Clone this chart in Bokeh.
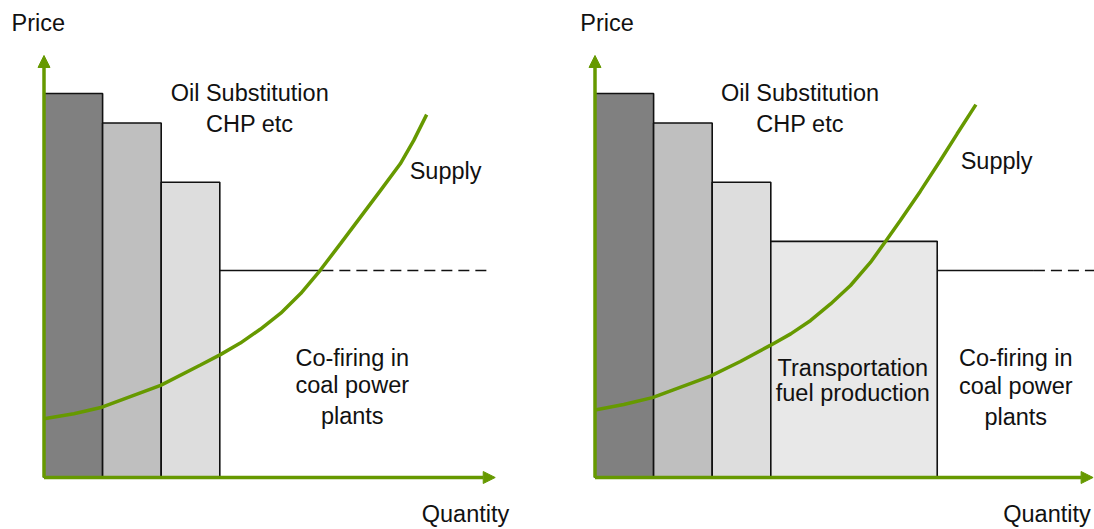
from bokeh.plotting import figure
from bokeh.layouts import row
from bokeh.models import Arrow, NormalHead, Range1d
from bokeh.core.properties import value
from bokeh.embed import file_html
from bokeh.resources import INLINE

# ---------------- data (conceptual units: quantity, price) ----------------
oil_left = [0.0, 1.0, 2.0]
oil_right = [1.0, 2.0, 3.0]
oil_price = [10.0, 9.23, 7.69]

transport_left = [3.0]
transport_right = [5.84]
transport_price = [6.15]

cofire_price = 5.39
left_cofire_solid_q = [3.0, 4.75]
left_cofire_dash_q = [4.75, 7.55]
right_cofire_solid_q = [5.84, 7.49]
right_cofire_dash_q = [7.49, 8.7]

left_supply_q = [0.0, 0.51, 0.99, 1.99, 2.67, 3.01, 3.35, 3.69, 4.04, 4.38, 4.71, 5.06, 5.40, 5.74, 6.08, 6.31, 6.53]
left_supply_p = [1.53, 1.66, 1.83, 2.40, 2.93, 3.20, 3.50, 3.86, 4.28, 4.79, 5.39, 6.09, 6.78, 7.47, 8.17, 8.78, 9.45]

right_supply_q = [0.0, 0.49, 0.98, 1.97, 2.48, 2.99, 3.34, 3.68, 4.02, 4.36, 4.70, 4.96, 5.21, 5.55, 5.89, 6.18, 6.50]
right_supply_p = [1.76, 1.90, 2.08, 2.64, 3.02, 3.44, 3.74, 4.09, 4.52, 5.00, 5.60, 6.15, 6.69, 7.45, 8.25, 8.95, 9.71]

oil_labels = ["Oil Substitution", "CHP etc"]
cofire_labels = ["Co-firing in", "coal power", "plants"]
transport_labels = ["Transportation", "fuel production"]

# ---------------- styles / layout ----------------
GREEN = "#669900"
BAR_COLORS = ["#808080", "#bfbfbf", "#dddddd"]
TRANSPORT_COLOR = "#e8e8e8"
FONT = value("Liberation Sans")
FS = "23.5px"
PX_Q = 58.6   # pixels per quantity unit
PX_P = 38.4   # pixels per price unit
H = 529
ORIGIN_Y = 477  # px from top of figure to x axis
TEXT_SHIFT = 9 / PX_P  # compensate renderer baseline placement


def make_panel(width, origin_x):
    xr = Range1d(-origin_x / PX_Q, (width - origin_x) / PX_Q)
    yr = Range1d(-(H - ORIGIN_Y) / PX_P, ORIGIN_Y / PX_P)
    p = figure(width=width, height=H, x_range=xr, y_range=yr,
               x_axis_type=None, y_axis_type=None, toolbar_location=None,
               output_backend="svg", min_border=0)
    p.outline_line_color = None
    p.grid.visible = False
    p.background_fill_color = "white"
    p.border_fill_color = "white"
    p.quad(left=oil_left, right=oil_right, bottom=0, top=oil_price,
           fill_color=BAR_COLORS, line_color="#111111", line_width=1.6)
    return p


def add_axes(p, x_end):
    head = dict(size=12, fill_color=GREEN, line_color=GREEN)
    p.add_layout(Arrow(end=NormalHead(**head), x_start=0, y_start=0,
                       x_end=x_end, y_end=0, line_color=GREEN, line_width=3.5))
    p.add_layout(Arrow(end=NormalHead(**head), x_start=0, y_start=0,
                       x_end=0, y_end=10.99, line_color=GREEN, line_width=3.5))


def txt(p, x, y, t, align="center"):
    p.text(x=[x], y=[y + TEXT_SHIFT], text=[t], text_font=FONT, text_font_size=FS,
           text_align=align, text_baseline="alphabetic", text_color="#111111")


# ---------------- left panel ----------------
p1 = make_panel(547, 43.5)
p1.line(left_cofire_solid_q, [cofire_price] * 2, line_color="#111111", line_width=1.6)
p1.line(left_cofire_dash_q, [cofire_price] * 2, line_color="#111111", line_width=1.6,
        line_dash="11 6")
p1.line(left_supply_q, left_supply_p, line_color=GREEN, line_width=3.5)
add_axes(p1, 7.70)
txt(p1, -0.555, 11.60, "Price", "left")
txt(p1, 7.94, -1.19, "Quantity", "right")
txt(p1, 3.51, 9.77, oil_labels[0])
txt(p1, 3.51, 8.98, oil_labels[1])
txt(p1, 6.24, 7.76, "Supply", "left")
txt(p1, 5.26, 2.87, cofire_labels[0])
txt(p1, 5.26, 2.18, cofire_labels[1])
txt(p1, 5.26, 1.36, cofire_labels[2])

# ---------------- right panel ----------------
p2 = make_panel(547, 594.5 - 547)
p2.quad(left=transport_left, right=transport_right, bottom=0, top=transport_price,
        fill_color=TRANSPORT_COLOR, line_color="#111111", line_width=1.6)
p2.line(right_cofire_solid_q, [cofire_price] * 2, line_color="#111111", line_width=1.6)
p2.line(right_cofire_dash_q, [cofire_price] * 2, line_color="#111111", line_width=1.6,
        line_dash="11 6")
p2.line(right_supply_q, right_supply_p, line_color=GREEN, line_width=3.5)
add_axes(p2, 8.50)
txt(p2, -0.25, 11.60, "Price", "left")
txt(p2, 8.46, -1.19, "Quantity", "right")
txt(p2, 3.50, 9.77, oil_labels[0])
txt(p2, 3.50, 8.98, oil_labels[1])
txt(p2, 6.24, 8.01, "Supply", "left")
txt(p2, 4.40, 2.63, transport_labels[0])
txt(p2, 4.40, 1.97, transport_labels[1])
txt(p2, 7.18, 2.87, cofire_labels[0])
txt(p2, 7.18, 2.16, cofire_labels[1])
txt(p2, 7.18, 1.35, cofire_labels[2])

layout = row(p1, p2)
open("out.html", "w").write(file_html(layout, INLINE))
